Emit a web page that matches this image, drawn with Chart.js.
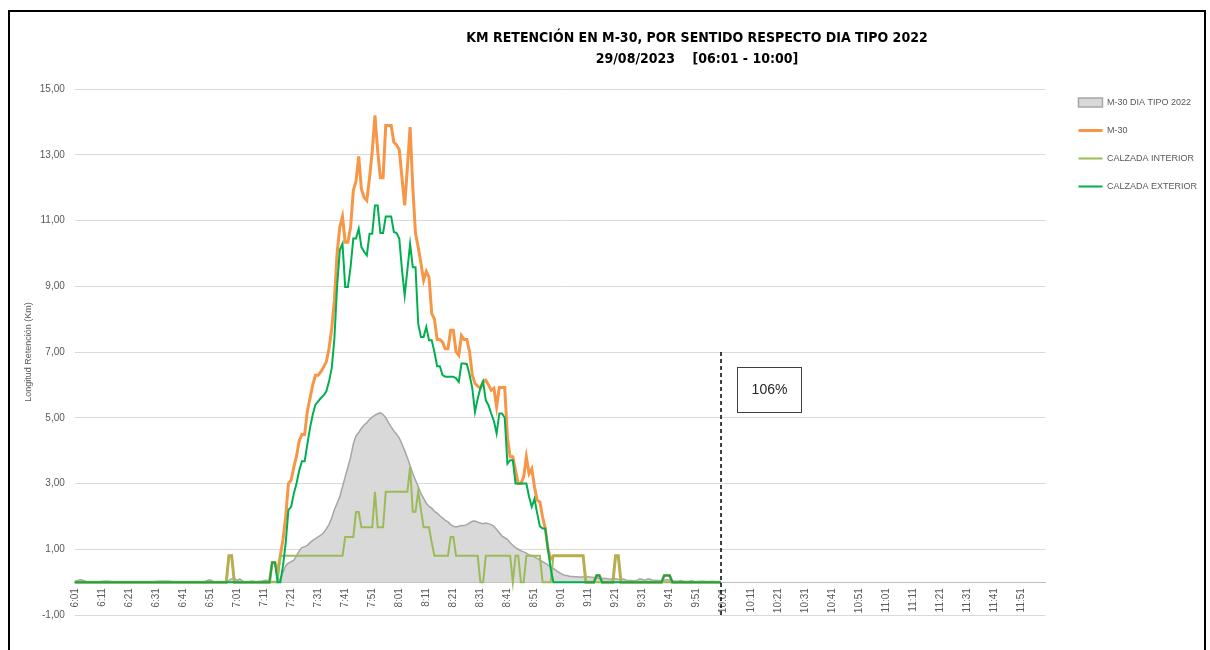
<!DOCTYPE html>
<html>
<head>
<meta charset="utf-8">
<script src="https://cdn.jsdelivr.net/npm/chart.js@4.4.1/dist/chart.umd.min.js"></script>
<style>
html,body{margin:0;padding:0;background:#fff;}
#wrap{position:relative;width:1210px;height:650px;overflow:hidden;}
#frame{position:absolute;left:8px;top:10px;width:1198px;height:700px;border:2px solid #000;box-sizing:border-box;pointer-events:none;}
#title{position:absolute;left:397px;top:27px;width:600px;text-align:center;font-weight:bold;font-size:14px;line-height:21px;
  font-family:"Liberation Sans Narrow","Arial Narrow","DejaVu Sans Condensed",sans-serif;color:#000;white-space:pre;}
canvas{position:absolute;left:0;top:0;}
</style>
</head>
<body>
<div id="wrap">
<canvas id="c" width="1210" height="650"></canvas>
<div id="title">KM RETENCIÓN EN M-30, POR SENTIDO RESPECTO DIA TIPO 2022
29/08/2023    [06:01 - 10:00]</div>
<div id="frame"></div>
</div>
<script>
// minute labels 6:01 .. 12:00
const times=[];
for(let i=0;i<360;i++){const t=361+i;times.push(Math.floor(t/60)+":"+String(t%60).padStart(2,"0"));}

const seriesNames=["M-30 DIA TIPO 2022","M-30","CALZADA INTERIOR","CALZADA EXTERIOR"];

// km, one value per minute from 6:01 to 10:00
const tipo2022=[
0.02,0.05,0.07,0.06,0.02,0,0,0,0,0,
0.02,0.03,0.03,0.02,0,0,0,0,0,0,
0,0,0,0,0,0,0,0,0,0,
0.02,0.03,0.03,0.03,0.03,0.03,0.01,0,0,0,
0,0,0,0,0,0,0,0,0,0.05,
0.07,0.03,0,0,0,0,0,0.05,0.1,0.12,
0.05,0.1,0.04,0,0,0.03,0.03,0,0.02,0.03,
0.05,0.06,0.03,0.02,0.02,0.03,0.1,0.3,0.5,0.58,
0.62,0.67,0.8,0.95,1.05,1.08,1.12,1.2,1.27,1.32,
1.38,1.43,1.5,1.62,1.75,1.95,2.2,2.4,2.6,2.9,
3.2,3.5,3.8,4.2,4.45,4.55,4.68,4.78,4.85,4.95,
5.02,5.08,5.12,5.15,5.1,5.0,4.85,4.72,4.6,4.5,
4.38,4.2,4.0,3.78,3.55,3.3,3.1,2.9,2.7,2.55,
2.4,2.3,2.25,2.15,2.1,2.02,1.95,1.88,1.83,1.75,
1.7,1.68,1.7,1.72,1.72,1.75,1.8,1.85,1.86,1.82,
1.8,1.78,1.8,1.78,1.75,1.7,1.6,1.5,1.4,1.35,
1.3,1.2,1.12,1.05,1.0,0.95,0.92,0.88,0.83,0.8,
0.77,0.72,0.68,0.62,0.58,0.52,0.47,0.42,0.36,0.3,
0.25,0.21,0.2,0.18,0.17,0.16,0.16,0.15,0.16,0.18,
0.16,0.15,0.14,0.13,0.12,0.11,0.12,0.1,0.09,0.1,
0.1,0.08,0.1,0.09,0.06,0.05,0.05,0.04,0.06,0.1,
0.08,0.06,0.1,0.08,0.05,0.06,0.05,0.04,0.05,0.08,
0.06,0.04,0.03,0.02,0.05,0.03,0.02,0.02,0.04,0.02,
0.01,0.02,0.03,0.02,0.01,0.02,0.02,0.01,0.01,0
];
const m30=[
0,0,0,0,0,0,0,0,0,0,
0,0,0,0,0,0,0,0,0,0,
0,0,0,0,0,0,0,0,0,0,
0,0,0,0,0,0,0,0,0,0,
0,0,0,0,0,0,0,0,0,0,
0,0,0,0,0,0,0,0.8,0.8,0,
0,0,0,0,0,0,0,0,0,0,
0,0,0,0.6,0.6,0.3,0.8,1.3,2.0,3.0,
3.1,3.5,3.83,4.3,4.49,4.49,5.2,5.6,6.0,6.29,
6.29,6.4,6.54,6.7,7.1,7.7,8.57,10.0,10.8,11.12,
10.34,10.34,10.8,11.91,12.2,12.95,11.95,11.7,11.61,12.3,
13.1,14.2,13.13,12.3,12.3,13.89,13.89,13.89,13.38,13.3,
13.15,12.3,11.46,12.6,13.84,12.0,10.6,10.19,9.7,9.18,
9.45,9.28,8.17,8.0,7.38,7.38,7.3,7.1,7.1,7.66,
7.66,7.0,6.9,7.5,7.38,7.38,7.0,6.3,6.04,5.96,
5.9,6.1,6.14,6.0,5.84,5.9,5.33,5.92,5.92,5.92,
4.4,3.81,3.81,3.4,3.0,3.0,3.2,3.81,3.3,3.45,
2.9,2.49,2.44,1.98,1.63,1.0,0.7,0.8,0.8,0.8,
0.8,0.8,0.8,0.8,0.8,0.8,0.8,0.8,0.8,0,
0,0,0,0.2,0.2,0,0,0,0,0,
0.8,0.8,0,0,0,0,0,0,0,0,
0,0,0,0,0,0,0,0,0.2,0.2,
0.2,0,0,0,0,0,0,0,0,0,
0,0,0,0,0,0,0,0,0,0
];
const interior=[
0,0,0,0,0,0,0,0,0,0,
0,0,0,0,0,0,0,0,0,0,
0,0,0,0,0,0,0,0,0,0,
0,0,0,0,0,0,0,0,0,0,
0,0,0,0,0,0,0,0,0,0,
0,0,0,0,0,0,0,0.8,0.8,0,
0,0,0,0,0,0,0,0,0,0,
0,0,0,0,0,0,0.8,0.8,0.8,0.8,
0.8,0.8,0.8,0.8,0.8,0.8,0.8,0.8,0.8,0.8,
0.8,0.8,0.8,0.8,0.8,0.8,0.8,0.8,0.8,0.8,
1.37,1.37,1.37,1.37,2.13,2.13,1.67,1.67,1.67,1.67,
1.67,2.75,1.67,1.67,1.67,2.75,2.75,2.75,2.75,2.75,
2.75,2.75,2.75,2.75,3.5,2.14,2.14,2.75,2.2,1.67,
1.67,1.67,1.2,0.8,0.8,0.8,0.8,0.8,0.8,1.37,
1.37,0.8,0.8,0.8,0.8,0.8,0.8,0.8,0.8,0.8,
0,0,0.8,0.8,0.8,0.8,0.8,0.8,0.8,0.8,
0.8,0.8,0,0.8,0.8,0,0,0.8,0.8,0.8,
0.8,0.8,0.8,0,0,0,0,0.8,0.8,0.8,
0.8,0.8,0.8,0.8,0.8,0.8,0.8,0.8,0.8,0,
0,0,0,0,0,0,0,0,0,0,
0.8,0.8,0,0,0,0,0,0,0,0,
0,0,0,0,0,0,0,0,0,0,
0,0,0,0,0,0,0,0,0,0,
0,0,0,0,0,0,0,0,0,0
];
const exterior=[
0,0,0,0,0,0,0,0,0,0,
0,0,0,0,0,0,0,0,0,0,
0,0,0,0,0,0,0,0,0,0,
0,0,0,0,0,0,0,0,0,0,
0,0,0,0,0,0,0,0,0,0,
0,0,0,0,0,0,0,0,0,0,
0,0,0,0,0,0,0,0,0,0,
0,0,0,0.6,0.6,0,0,0.5,1.2,2.2,
2.29,2.7,3.0,3.4,3.68,3.68,4.2,4.7,5.1,5.4,
5.5,5.6,5.68,5.8,6.1,6.5,7.4,9.0,10.1,10.29,
8.98,8.98,9.6,10.45,10.45,10.75,10.19,10.05,9.94,10.6,
10.6,11.46,11.46,10.62,10.62,11.12,11.12,11.12,10.65,10.62,
10.45,9.5,8.72,9.5,10.29,9.58,9.58,7.86,7.46,7.46,
7.76,7.36,7.36,7.0,6.57,6.57,6.3,6.25,6.25,6.25,
6.25,6.2,6.09,6.65,6.65,6.63,6.3,5.9,5.18,5.58,
5.9,6.1,5.53,5.38,5.13,4.9,4.52,5.13,5.13,5.0,
3.6,3.71,3.71,3.0,3.0,3.0,3.0,3.0,2.6,2.29,
2.53,2.1,1.7,1.63,1.63,1.0,0.4,0,0,0,
0,0,0,0,0,0,0,0,0,0,
0,0,0,0.2,0.2,0,0,0,0,0,
0,0,0,0,0,0,0,0,0,0,
0,0,0,0,0,0,0,0,0.2,0.2,
0.2,0,0,0,0,0,0,0,0,0,
0,0,0,0,0,0,0,0,0,0
];

// dashed marker at the end of the period, and its note
const cutTime="10:00";
const cutRange=[-1,7];
const noteText="106%";
const noteAt=["10:06",6.53];

const yTicks=[-1,15,2]; // min, max, step

Chart.defaults.font.family='"Liberation Sans", Arial, sans-serif';
Chart.defaults.color="#595959";

const shiftLegend={
  id:"shiftLegend",
  afterLayout(chart){
    const lg=chart.legend;
    lg.left+=14;lg.right+=14;lg.top-=10;lg.bottom-=10;
  }
};
const notePlugin={
  id:"notePlugin",
  afterDatasetsDraw(chart){
    const {ctx,scales:{x,y}}=chart;
    const l=Math.round(x.getPixelForValue(times.indexOf(noteAt[0])))+0.5;
    const t=Math.round(y.getPixelForValue(noteAt[1]))+0.5;
    ctx.save();
    ctx.fillStyle="#fff";ctx.fillRect(l,t,64,45);
    ctx.strokeStyle="#404040";ctx.lineWidth=1;ctx.strokeRect(l,t,64,45);
    ctx.fillStyle="#262626";ctx.font='14px "Liberation Sans", Arial, sans-serif';
    ctx.textAlign="center";ctx.textBaseline="middle";
    ctx.fillText(noteText,l+32,t+23);
    ctx.restore();
  }
};

new Chart(document.getElementById("c"),{
  type:"line",
  data:{
    labels:times,
    datasets:[
      {label:seriesNames[0],data:tipo2022,order:4,fill:"origin",backgroundColor:"#d9d9d9",borderColor:"#a6a6a6",borderWidth:1.5,pointRadius:0,pointStyle:"rect",tension:0},
      {label:seriesNames[1],data:m30,order:3,borderColor:"#f79646",backgroundColor:"#f79646",borderWidth:3,pointRadius:0,pointStyle:"line",tension:0},
      {label:seriesNames[2],data:interior,order:2,borderColor:"#9bbb59",backgroundColor:"#9bbb59",borderWidth:2,pointRadius:0,pointStyle:"line",tension:0},
      {label:seriesNames[3],data:exterior,order:1,borderColor:"#00b050",backgroundColor:"#00b050",borderWidth:2,pointRadius:0,pointStyle:"line",tension:0},
      {label:"corte",data:[{x:cutTime,y:cutRange[0]},{x:cutTime,y:cutRange[1]}],order:0,borderColor:"#000",borderWidth:1.5,borderDash:[4,3],pointRadius:0}
    ]
  },
  options:{
    responsive:false,
    animation:false,
    layout:{padding:{left:19,right:17,top:89,bottom:35}},
    plugins:{
      legend:{
        position:"right",align:"start",
        labels:{
          usePointStyle:true,pointStyleWidth:24,padding:19,color:"#595959",font:{size:9},
          filter:(item)=>item.datasetIndex<4,
          sort:(a,b)=>a.datasetIndex-b.datasetIndex
        }
      },
      tooltip:{enabled:false}
    },
    scales:{
      x:{
        type:"category",
        position:{y:0},
        grid:{display:false,drawTicks:false},
        border:{display:true,color:"#bfbfbf",width:1},
        ticks:{autoSkip:false,maxRotation:90,minRotation:90,padding:6,color:"#595959",font:{size:10},
          callback:(v,i)=>i%10===0?times[i]:null}
      },
      y:{
        min:yTicks[0],max:yTicks[1],
        grid:{color:"#d9d9d9",drawTicks:false},
        border:{display:false},
        ticks:{stepSize:yTicks[2],padding:10,color:"#595959",font:{size:10},
          callback:(v)=>v.toFixed(2).replace(".",",")},
        title:{display:true,text:"Longitud Retención (Km)",color:"#595959",font:{size:9},padding:{top:4,bottom:-4}}
      }
    }
  },
  plugins:[shiftLegend,notePlugin]
});
</script>
</body>
</html>
